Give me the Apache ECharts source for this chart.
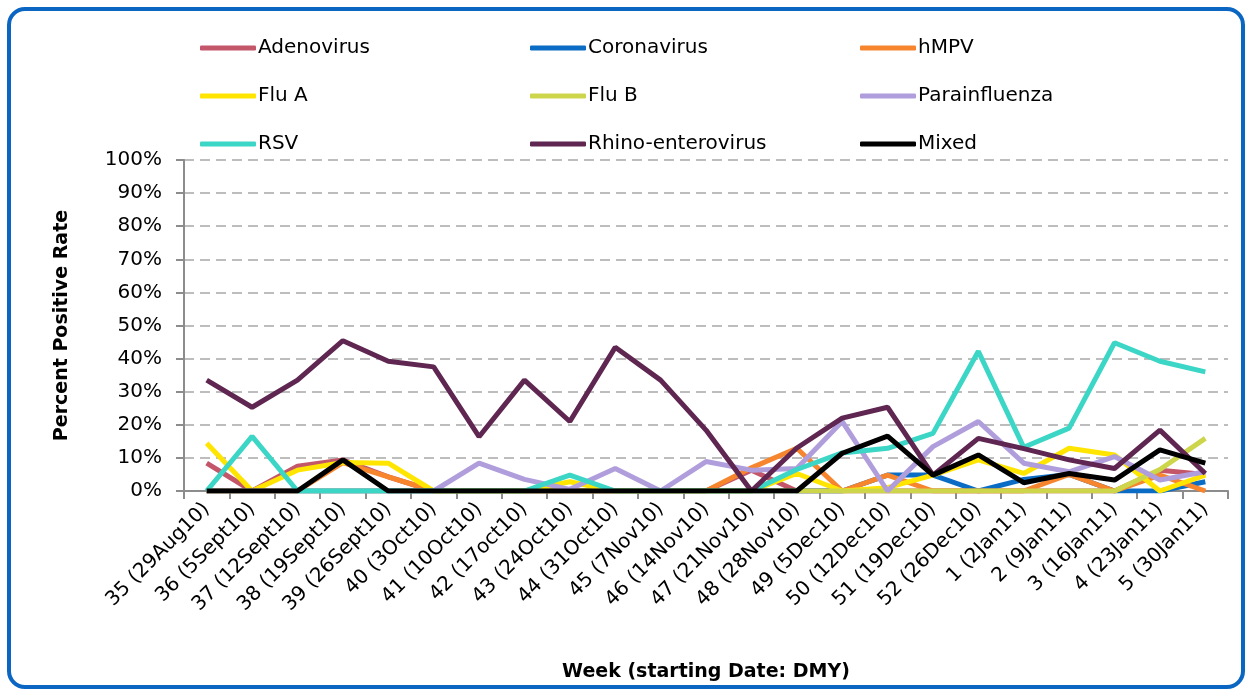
<!DOCTYPE html>
<html>
<head>
<meta charset="utf-8">
<script src="https://cdn.jsdelivr.net/npm/echarts@6/dist/echarts.min.js"></script>
<style>
  html, body { margin: 0; padding: 0; background: #fff; }
  #frame {
    position: absolute; left: 7px; top: 7px; width: 1230px; height: 674px;
    border: 4px solid #0A66C2; border-radius: 18px;
  }
  #chart { position: absolute; left: 0; top: 0; width: 1251px; height: 691px; }
</style>
</head>
<body>
<div id="frame"></div>
<div id="chart"></div>
<script>
// week labels (starting date DMY)
var weeks = ['35 (29Aug10)', '36 (5Sept10)', '37 (12Sept10)', '38 (19Sept10)', '39 (26Sept10)',
  '40 (3Oct10)', '41 (10Oct10)', '42 (17oct10)', '43 (24Oct10)', '44 (31Oct10)', '45 (7Nov10)',
  '46 (14Nov10)', '47 (21Nov10)', '48 (28Nov10)', '49 (5Dec10)', '50 (12Dec10)', '51 (19Dec10)',
  '52 (26Dec10)', '1 (2Jan11)', '2 (9Jan11)', '3 (16Jan11)', '4 (23Jan11)', '5 (30Jan11)']

// percent positive
var adenovirus = [8.4, 0, 7.5, 9.4, 4.3, 0, 0, 0, 0, 0, 0, 0, 6.3, 0, 0, 0, 0, 0, 0, 0, 0, 6.3, 5]
var coronavirus = [0, 0, 0, 0, 0, 0, 0, 0, 0, 0, 0, 0, 0, 0, 0, 4.8, 4.8, 0, 3.5, 5, 0, 0, 2.8]
var hmpv = [0, 0, 0, 8.6, 4.3, 0, 0, 0, 0, 0, 0, 0, 7, 12.9, 0, 4.8, 0, 0, 0, 5, 0, 4.8, 0]
var fluA = [14.4, 0, 6.3, 8.6, 8.4, 0, 0, 0, 2.8, 0, 0, 0, 0, 5.3, 0, 1, 4.8, 9.4, 5.3, 12.9, 10.9, 0, 4.8]
var fluB = [0, 0, 0, 0, 0, 0, 0, 0, 0, 0, 0, 0, 0, 0, 0, 0, 0, 0, 0, 0, 0, 6.5, 15.9]
var parainfluenza = [0, 0, 0, 0, 0, 0, 8.4, 3.5, 0.5, 6.8, 0, 8.9, 6.3, 6.8, 21, 0, 13.4, 21, 8.4, 5.8, 10.4, 3.3, 5.8]
var rsv = [0, 16.5, 0, 0, 0, 0, 0, 0, 4.8, 0, 0, 0, 0, 6.5, 11.5, 12.9, 17.4, 42.2, 13.2, 19, 44.8, 39.2, 36]
var rhino = [33.5, 25.3, 33.5, 45.4, 39.2, 37.5, 16.4, 33.5, 21, 43.4, 33.5, 18.4, 0, 13, 22, 25.3, 4.8, 15.9, 12.8, 9.4, 6.8, 18.4, 5.3]
var mixed = [0, 0, 0, 9.4, 0, 0, 0, 0, 0, 0, 0, 0, 0, 0, 11.4, 16.6, 4.8, 10.9, 2.5, 5.3, 3.3, 12.4, 8.4]

var names = ['Adenovirus', 'Coronavirus', 'hMPV', 'Flu A', 'Flu B', 'Parainfluenza', 'RSV', 'Rhino-enterovirus', 'Mixed']
var values = [adenovirus, coronavirus, hmpv, fluA, fluB, parainfluenza, rsv, rhino, mixed]
var colors = ['#C4566A', '#0A6CC4', '#F6852E', '#FFE500', '#CDD64A', '#B09EDC', '#3CD6C6', '#5E2650', '#000000']

var font = 'DejaVu Sans'
var colX = [195, 525, 855]
var rowY = [33, 81, 129]

var legends = names.map(function (n, i) {
  return {
    left: colX[i % 3],
    top: rowY[Math.floor(i / 3)],
    icon: 'roundRect',
    itemWidth: 56,
    itemHeight: 5,
    itemGap: 0,
    data: [n],
    textStyle: { fontFamily: font, fontSize: 20, color: '#000', padding: [0, 0, 0, -3] }
  }
})

var series = names.map(function (n, i) {
  return {
    name: n,
    type: 'line',
    data: values[i],
    symbol: 'none',
    color: colors[i],
    lineStyle: { width: 5, color: colors[i] }
  }
})

var chart = echarts.init(document.getElementById('chart'), null, { renderer: 'canvas' })
chart.setOption({
  animation: false,
  legend: legends,
  grid: { left: 184, right: 23, top: 160, bottom: 200 },
  xAxis: {
    type: 'category',
    data: weeks,
    boundaryGap: true,
    name: 'Week (starting Date: DMY)',
    nameLocation: 'middle',
    nameGap: 172,
    nameTextStyle: { fontFamily: font, fontSize: 19, fontWeight: 'bold', color: '#000' },
    axisLine: { lineStyle: { color: '#8C8C8C', width: 2 } },
    axisTick: { show: true, length: 8, interval: 0, lineStyle: { color: '#8C8C8C', width: 2 } },
    axisLabel: { rotate: 45, interval: 0, margin: 15, fontFamily: font, fontSize: 20, color: '#000' }
  },
  yAxis: {
    type: 'value',
    min: 0,
    max: 100,
    interval: 10,
    name: 'Percent Positive Rate',
    nameLocation: 'middle',
    nameGap: 112,
    nameTextStyle: { fontFamily: font, fontSize: 19, fontWeight: 'bold', color: '#000' },
    axisLine: { show: true, lineStyle: { color: '#8C8C8C', width: 2 } },
    axisTick: { show: true, length: 8, lineStyle: { color: '#8C8C8C', width: 2 } },
    axisLabel: { formatter: '{value}%', margin: 22, fontFamily: font, fontSize: 20, color: '#000' },
    splitLine: { lineStyle: { color: '#BDBDBD', width: 2, type: [10, 6] } }
  },
  series: series
})
</script>
</body>
</html>
